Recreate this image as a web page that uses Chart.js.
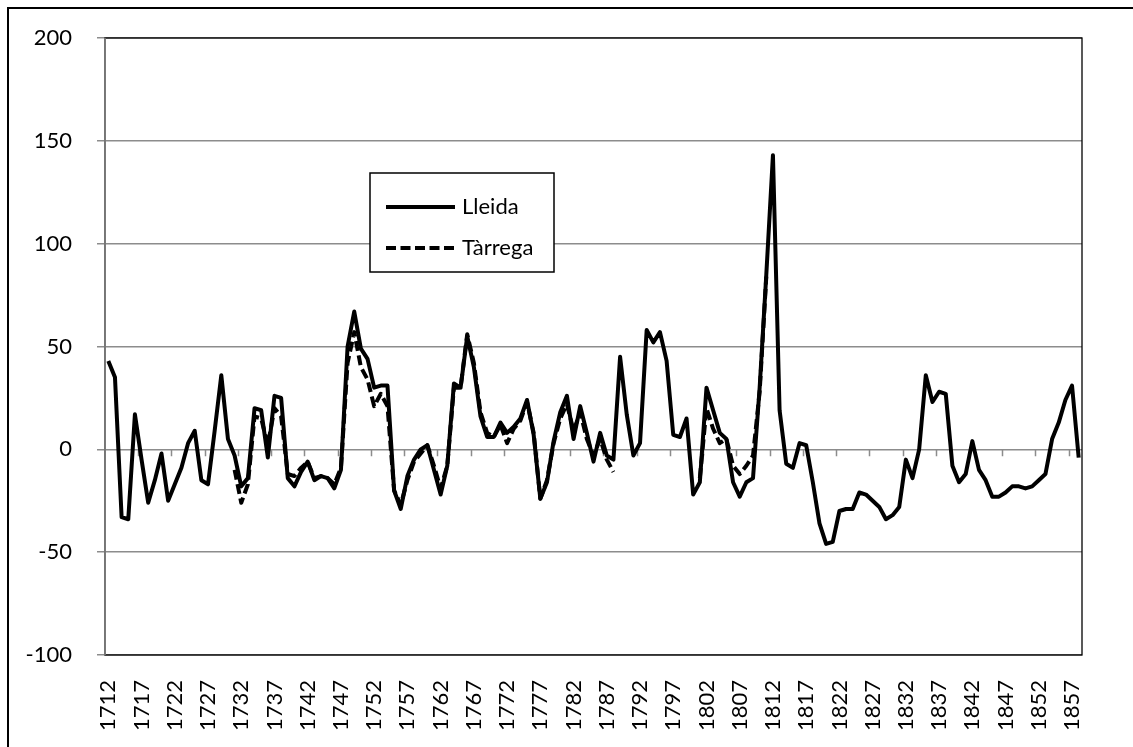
<!DOCTYPE html>
<html>
<head>
<meta charset="utf-8">
<script src="https://cdn.jsdelivr.net/npm/chart.js@4.4.0/dist/chart.umd.min.js"></script>
<style>
  html, body { margin: 0; padding: 0; background: #fff; }
  #wrap { position: relative; width: 1133px; height: 747px; }
</style>
</head>
<body>
<div id="wrap"><canvas id="chart"></canvas></div>
<script>
// years on the category axis, one per point
const firstYear = 1712;
const lastYear = 1858;
const years = [];
for (let y = firstYear; y <= lastYear; y++) years.push(String(y));

// Lleida, 1712..1858
const lleida = [
  43, 35, -33, -34, 17, -5, -26, -15, -2, -25,      // 1712
  -17, -9, 3, 9, -15, -17, 9, 36, 5, -3,            // 1722
  -18, -14, 20, 19, -4, 26, 25, -14, -18, -11,      // 1732
  -6, -15, -13, -14, -19, -10, 50, 67, 49, 44,      // 1742
  30, 31, 31, -20, -29, -13, -5, 0, 2, -10,         // 1752
  -22, -8, 32, 30, 55, 40, 16, 6, 6, 13,            // 1762
  8, 11, 15, 24, 7, -24, -16, 4, 18, 26,            // 1772
  5, 21, 8, -6, 8, -3, -5, 45, 17, -3,              // 1782
  3, 58, 52, 57, 43, 7, 6, 15, -22, -16,            // 1792
  30, 19, 8, 5, -16, -23, -16, -14, 30, 85,         // 1802
  143, 19, -7, -9, 3, 2, -16, -36, -46, -45,        // 1812
  -30, -29, -29, -21, -22, -25, -28, -34, -32, -28, // 1822
  -5, -14, 0, 36, 23, 28, 27, -8, -16, -12,         // 1832
  4, -10, -15, -23, -23, -21, -18, -18, -19, -18,   // 1842
  -15, -12, 5, 13, 24, 31, -4                       // 1852
];

// Tàrrega, same years, gaps where there is no data
const tarrega = [
  null, null, null, null, null, null, null, null, null, null, // 1712
  null, null, null, null, null, null, null, null, null, -10,  // 1722
  -26, -17, 16, 15, 2, 20, 16, -12, -13, -9,                  // 1732
  -6, -14, -13, -14, -17, -9, 42, 57, 40, 34,                 // 1742
  21, 27, 21, -20, -27, -15, -6, -2, 2, -8,                   // 1752
  -19, -8, 30, 30, 56, 42, 18, 8, 6, 12,                      // 1762
  3, 10, 14, 23, 8, -24, -15, 3, 15, 22,                      // 1772
  9, 18, 5, -3, 5, -5, -11, null, null, null,                 // 1782
  null, null, null, null, null, null, null, null, null, -14,  // 1792
  20, 10, 3, 5, -8, -12, -8, -3, 28, 84,                      // 1802
  null, null, null, null, null, null, null, null, null, null, // 1812
  null, null, null, null, null, null, null, null, null, null, // 1822
  null, null, null, null, null, null, null, null, null, null, // 1832
  null, null, null, null, null, null, null, null, null, null, // 1842
  null, null, null, null, null, null, null                    // 1852
];

const yMin = -100;
const yMax = 200;
const yStep = 50;
const labelEvery = 5;

const FONT = 'Lato, "Open Sans", sans-serif';
const GRID = '#8c8c8c';

// outer frame of the whole chart
const framePlugin = {
  id: 'frame',
  beforeDraw(chart) {
    const ctx = chart.ctx;
    ctx.save();
    ctx.fillStyle = '#fff';
    ctx.fillRect(0, 0, chart.width, chart.height);
    ctx.strokeStyle = '#000';
    ctx.lineWidth = 2;
    ctx.beginPath();
    ctx.moveTo(8, chart.height + 5);
    ctx.lineTo(8, 8);
    ctx.lineTo(chart.width + 5, 8);
    ctx.stroke();
    ctx.restore();
  }
};

// plot border + small tick marks hanging from the zero line
const plotPlugin = {
  id: 'plotBox',
  beforeDatasetsDraw(chart) {
    const { ctx, chartArea: a, scales } = chart;
    const x = scales.x, y = scales.y;
    ctx.save();
    ctx.strokeStyle = '#000';
    ctx.lineWidth = 1.3;
    ctx.strokeRect(a.left, a.top, a.right - a.left, a.bottom - a.top);
    ctx.strokeStyle = GRID;
    ctx.lineWidth = 1.5;
    ctx.beginPath();
    ctx.moveTo(a.left, a.top);
    ctx.lineTo(a.left, a.bottom);
    const y0 = y.getPixelForValue(0);
    for (let i = labelEvery; i < years.length; i += labelEvery) {
      const px = Math.round(x.getPixelForValue(i - 0.5)) + 0.5;
      ctx.moveTo(px, y0);
      ctx.lineTo(px, y0 + 7);
    }
    ctx.stroke();
    ctx.restore();
  }
};

// boxed legend sitting inside the plot
const legendPlugin = {
  id: 'boxLegend',
  afterDatasetsDraw(chart) {
    const ctx = chart.ctx;
    const box = { x: 370, y: 173, w: 184, h: 99 };
    ctx.save();
    ctx.fillStyle = '#fff';
    ctx.fillRect(box.x, box.y, box.w, box.h);
    ctx.strokeStyle = '#000';
    ctx.lineWidth = 1.5;
    ctx.strokeRect(box.x, box.y, box.w, box.h);
    const rows = [207, 248];
    chart.data.datasets.forEach((ds, i) => {
      const ly = rows[i];
      ctx.beginPath();
      ctx.setLineDash(ds.borderDash || []);
      ctx.strokeStyle = ds.borderColor;
      ctx.lineWidth = ds.borderWidth;
      ctx.moveTo(386, ly);
      ctx.lineTo(455, ly);
      ctx.stroke();
      ctx.setLineDash([]);
      ctx.fillStyle = '#000';
      ctx.font = '22px ' + FONT;
      ctx.textBaseline = 'middle';
      ctx.textAlign = 'left';
      ctx.fillText(ds.label, 462, ly);
    });
    ctx.restore();
  }
};

new Chart(document.getElementById('chart'), {
  type: 'line',
  data: {
    labels: years,
    datasets: [
      {
        label: 'Lleida',
        data: lleida,
        borderColor: '#000',
        borderWidth: 4,
        pointRadius: 0,
        tension: 0,
        borderJoinStyle: 'round',
        spanGaps: false
      },
      {
        label: 'Tàrrega',
        data: tarrega,
        borderColor: '#000',
        borderWidth: 4,
        borderDash: [10, 4.5],
        pointRadius: 0,
        tension: 0,
        borderJoinStyle: 'round',
        spanGaps: false
      }
    ]
  },
  options: {
    responsive: true,
    maintainAspectRatio: false,
    animation: false,
    layout: { padding: { left: 0, top: 38, right: 51, bottom: 0 } },
    plugins: {
      legend: { display: false },
      tooltip: { enabled: false }
    },
    scales: {
      x: {
        type: 'category',
        offset: true,
        grid: { display: false, drawTicks: false },
        border: { display: false },
        ticks: {
          autoSkip: false,
          minRotation: 90,
          maxRotation: 90,
          padding: 25,
          color: '#000',
          font: { family: FONT, size: 22 },
          callback(val, idx) {
            return idx % labelEvery === 0 ? years[idx] : '';
          }
        },
        afterFit(s) {
          s.height = 92;
          s.paddingLeft = 0;
          s.paddingRight = 0;
        }
      },
      y: {
        min: yMin,
        max: yMax,
        grid: { color: GRID, lineWidth: 1.5, tickLength: 8 },
        border: { display: true, color: GRID, width: 1.5 },
        ticks: {
          stepSize: yStep,
          padding: 25,
          color: '#000',
          font: { family: FONT, size: 22 }
        },
        afterFit(s) {
          s.width = 105;
          s.paddingTop = 0;
          s.paddingBottom = 0;
        }
      }
    }
  },
  plugins: [framePlugin, plotPlugin, legendPlugin]
});
</script>
</body>
</html>
